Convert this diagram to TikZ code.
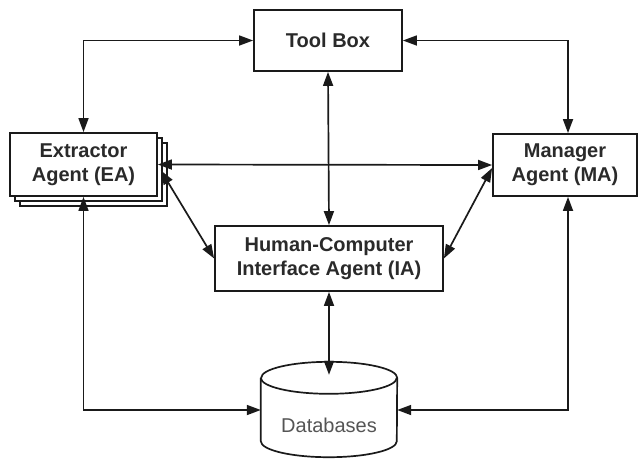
\documentclass[tikz,border=0pt]{standalone}
\usepackage{fontspec}
\setmainfont{Liberation Sans}
\usetikzlibrary{arrows.meta,calc}
\definecolor{ink}{HTML}{1A1A1A}
\definecolor{txt}{HTML}{2A2A2A}
\definecolor{dbtxt}{HTML}{555555}
\tikzset{
  agentbox/.style={draw=ink, line width=1.8pt, fill=white, align=center, text=txt,
    font=\bfseries\fontsize{20}{24}\selectfont, inner sep=0pt},
  link/.style={draw=ink, line width=1.7pt, {Triangle[length=14pt,width=10pt]}-{Triangle[length=14pt,width=10pt]}},
  cyl/.style={draw=ink, line width=1.7pt}
}
\begin{document}
\begin{tikzpicture}[x=1pt,y=-1pt]
\useasboundingbox (0,0) rectangle (639,459);
% Tool box
\node[agentbox, minimum width=148pt, minimum height=61pt] (tb) at (328,40.5) {Tool Box};
% Extractor stack
\draw[agentbox] (20,143) rectangle (167,206);
\draw[agentbox] (15,138) rectangle (162,201);
\node[agentbox, minimum width=147pt, minimum height=63pt] (ea) at (83.5,164.5) {Extractor\\Agent (EA)};
% Manager
\node[agentbox, minimum width=144pt, minimum height=62pt] (ma) at (565,165) {Manager\\Agent (MA)};
% HCI
\node[agentbox, minimum width=228pt, minimum height=65pt] (hci) at (329,258.5) {Human-Computer\\Interface Agent (IA)};
% Database (invisible anchor node + drawn cylinder)
\node[minimum width=136pt, minimum height=96pt, inner sep=0pt] (db) at (329,410) {};
\coordinate (dbtop) at ($(db.north)+(0,16)$);
\coordinate (dbbot) at ($(db.south)+(0,-17)$);
\draw[cyl, fill=white] (db.north west |- dbtop) -- (db.south west |- dbbot)
  arc[start angle=180, end angle=360, x radius=68pt, y radius=16pt]
  -- (db.north east |- dbtop)
  arc[start angle=0, end angle=180, x radius=68pt, y radius=16pt];
\draw[cyl] (db.north west |- dbtop) arc[start angle=180, end angle=360, x radius=68pt, y radius=16pt];
\node[text=dbtxt, font=\fontsize{20}{24}\selectfont] (dbl) at (329,425) {Databases};
% connectors
\draw[link] (tb.west) -| (ea.north);
\draw[link] (tb.east) -| ($(ma.north)+(3,0)$);
\draw[link] (tb.south) -- (hci.north);
\draw[link] (ea.east) -- (ma.west);
\draw[link] ($(ea.east)+(3,6)$) -- (hci.west);
\draw[link] ($(ma.west)+(0,3)$) -- (hci.east);
\draw[link] (hci.south) -- ($(db.north)+(0,13)$);
\draw[link] (ea.south) |- (db.west);
\draw[link] ($(ma.south)+(3,0)$) |- (db.east);
\end{tikzpicture}
\end{document}
